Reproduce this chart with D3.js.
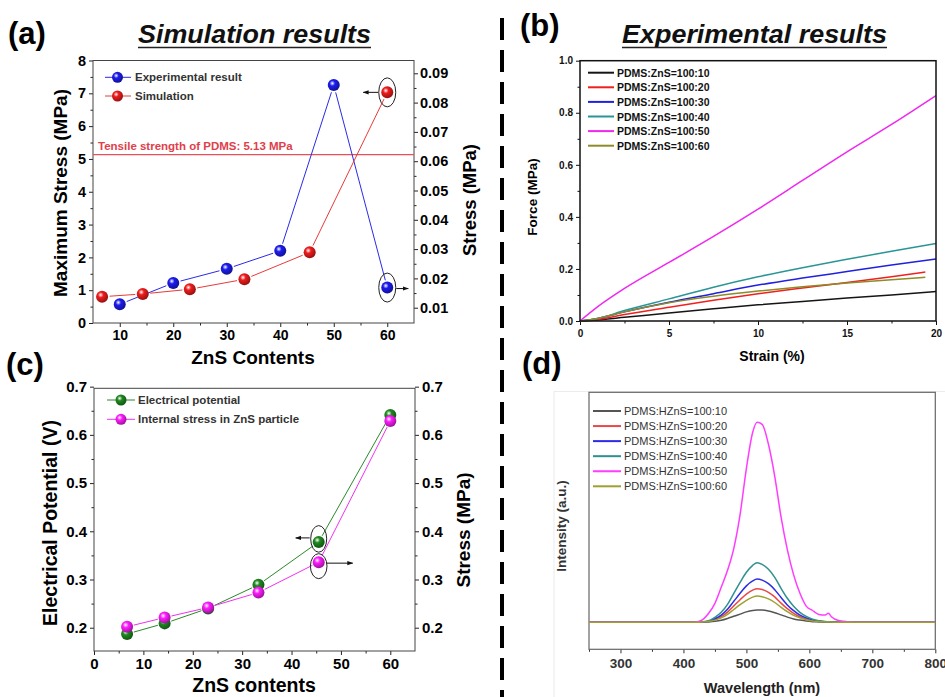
<!DOCTYPE html>
<html>
<head>
<meta charset="utf-8">
<script src="https://cdn.jsdelivr.net/npm/d3@7"></script>
<style>
body { margin: 0; background: #fff; }
svg { font-family: Arial, "Liberation Sans", sans-serif; }
</style>
</head>
<body>
<svg id="fig" width="945" height="697"></svg>
<script>
// ---- (a) simulation vs experiment ----
var expX = [10, 20, 30, 40, 50, 60];
var expStress = [0.57, 1.22, 1.65, 2.2, 7.25, 1.08];          // left axis, MPa
var simX = [6.7, 14.3, 23.1, 33.3, 45.5, 60];
var simStress = [0.01375, 0.0147, 0.0163, 0.0197, 0.0289, 0.0835]; // right axis, MPa
var pdmsStrength = 5.13;
var ticksA = [0, 1, 2, 3, 4, 5, 6, 7, 8];
var ticksA2 = [0.01, 0.02, 0.03, 0.04, 0.05, 0.06, 0.07, 0.08, 0.09];
var ticksAx = [10, 20, 30, 40, 50, 60];

// ---- (b) stress-strain curves ----
var strainFull = [0, 1, 2.5, 5, 7.5, 10, 12.5, 15, 17.5, 20];
var strainShort = [0, 1, 2.5, 5, 7.5, 10, 12.5, 15, 17.5, 19.4];
var force10 = [0, 0.004, 0.014, 0.031, 0.047, 0.062, 0.075, 0.088, 0.1, 0.113];
var force20 = [0, 0.006, 0.025, 0.053, 0.08, 0.105, 0.127, 0.148, 0.17, 0.188];
var force30 = [0, 0.01, 0.035, 0.072, 0.105, 0.138, 0.165, 0.19, 0.215, 0.238];
var force40 = [0, 0.01, 0.04, 0.085, 0.13, 0.17, 0.205, 0.237, 0.268, 0.298];
var force50 = [0, 0.055, 0.125, 0.225, 0.325, 0.43, 0.54, 0.65, 0.755, 0.866];
var force60 = [0, 0.01, 0.035, 0.07, 0.095, 0.115, 0.132, 0.146, 0.158, 0.168];
var legendB = ["PDMS:ZnS=100:10", "PDMS:ZnS=100:20", "PDMS:ZnS=100:30",
               "PDMS:ZnS=100:40", "PDMS:ZnS=100:50", "PDMS:ZnS=100:60"];
var ticksBx = [0, 5, 10, 15, 20];
var ticksBy = [0, 0.2, 0.4, 0.6, 0.8, 1.0];

// ---- (c) potential and internal stress ----
var zincX = [6.7, 14.3, 23.1, 33.3, 45.5, 60];
var potential = [0.187, 0.209, 0.24, 0.289, 0.378, 0.641];
var internalStress = [0.202, 0.221, 0.242, 0.273, 0.336, 0.629];
var ticksC = [0.2, 0.3, 0.4, 0.5, 0.6, 0.7];
var ticksCx = [0, 10, 20, 30, 40, 50, 60];

// ---- (d) emission spectra ----
var wl = [250, 400, 420, 430, 440, 450, 460, 470, 480, 490, 500, 510, 517, 525, 535, 545,
          555, 565, 575, 585, 595, 605, 615, 625, 630, 635, 645, 660, 680, 700, 800];
var int10 = [0, 0, 0, 0, 0.002, 0.005, 0.01, 0.019, 0.03, 0.041, 0.052, 0.059, 0.061, 0.061, 0.057, 0.048,
             0.037, 0.026, 0.017, 0.011, 0.006, 0.003, 0.002, 0.001, 0.001, 0, 0, 0, 0, 0, 0];
var int20 = [0, 0, 0, 0.001, 0.005, 0.014, 0.028, 0.051, 0.082, 0.113, 0.141, 0.161, 0.168, 0.164, 0.15, 0.127,
             0.096, 0.068, 0.045, 0.028, 0.017, 0.009, 0.005, 0.002, 0.002, 0.001, 0, 0, 0, 0, 0];
var int30 = [0, 0, 0, 0.001, 0.006, 0.018, 0.036, 0.065, 0.105, 0.145, 0.182, 0.207, 0.216, 0.211, 0.193, 0.163,
             0.124, 0.087, 0.058, 0.036, 0.022, 0.012, 0.006, 0.003, 0.002, 0.001, 0, 0, 0, 0, 0];
var int40 = [0, 0, 0, 0.002, 0.008, 0.025, 0.05, 0.09, 0.145, 0.2, 0.25, 0.285, 0.298, 0.29, 0.265, 0.225,
             0.17, 0.12, 0.08, 0.05, 0.03, 0.016, 0.008, 0.004, 0.003, 0.002, 0.001, 0, 0, 0, 0];
var int50 = [0, 0, 0.002, 0.012, 0.045, 0.095, 0.175, 0.26, 0.37, 0.54, 0.77, 0.95, 1.0, 0.99, 0.89, 0.73,
             0.527, 0.363, 0.237, 0.145, 0.081, 0.059, 0.039, 0.036, 0.045, 0.028, 0.01, 0.003, 0, 0, 0];
var int60 = [0, 0, 0, 0.001, 0.004, 0.011, 0.022, 0.04, 0.064, 0.088, 0.11, 0.126, 0.131, 0.128, 0.117, 0.099,
             0.075, 0.053, 0.035, 0.022, 0.013, 0.007, 0.004, 0.002, 0.001, 0.001, 0, 0, 0, 0, 0];
var legendD = ["PDMS:HZnS=100:10", "PDMS:HZnS=100:20", "PDMS:HZnS=100:30",
               "PDMS:HZnS=100:40", "PDMS:HZnS=100:50", "PDMS:HZnS=100:60"];
var ticksDx = [300, 400, 500, 600, 700, 800];

var svg = d3.select("#fig");
var defs = svg.append("defs");

// shaded ball markers like Origin
function sphereGrad(id, c) {
  var g = defs.append("radialGradient").attr("id", id)
    .attr("cx", "38%").attr("cy", "35%").attr("r", "65%");
  g.append("stop").attr("offset", "0%").attr("stop-color", "#fff");
  g.append("stop").attr("offset", "35%").attr("stop-color", c);
  g.append("stop").attr("offset", "100%").attr("stop-color", d3.color(c).darker(1.3));
}
sphereGrad("gBlue", "#1c1cf0");
sphereGrad("gRed", "#f01c1c");
sphereGrad("gGreen", "#1f8a1f");
sphereGrad("gPink", "#ff1cff");

defs.append("marker").attr("id", "arr")
  .attr("viewBox", "0 0 10 10").attr("refX", 9).attr("refY", 5)
  .attr("markerWidth", 6).attr("markerHeight", 6).attr("orient", "auto")
  .append("path").attr("d", "M0,1.5 L10,5 L0,8.5 Z").attr("fill", "#111");

function styleAxis(g, size, color) {
  g.attr("font-family", "Arial, 'Liberation Sans', sans-serif")
    .attr("font-size", size).attr("font-weight", "bold");
  g.select(".domain").remove();
  g.selectAll(".tick line").attr("stroke", color || "#222");
  g.selectAll(".tick text").attr("fill", color || "#000");
}

function minorAxis(axisFn, scale, vals, size, tx, ty, color) {
  var g = svg.append("g").attr("transform", "translate(" + tx + "," + ty + ")")
    .call(axisFn(scale).tickValues(vals).tickSize(size).tickFormat(""));
  g.select(".domain").remove();
  g.selectAll(".tick line").attr("stroke", color || "#222");
}

// line segments that stop short of the markers
function gapLine(xs, ys, sx, sy, color, gap) {
  for (var i = 0; i < xs.length - 1; i++) {
    var x0 = sx(xs[i]), y0 = sy(ys[i]), x1 = sx(xs[i + 1]), y1 = sy(ys[i + 1]);
    var dx = x1 - x0, dy = y1 - y0, d = Math.hypot(dx, dy);
    if (d <= 2 * gap) continue;
    var ux = dx / d, uy = dy / d;
    svg.append("line")
      .attr("x1", x0 + ux * gap).attr("y1", y0 + uy * gap)
      .attr("x2", x1 - ux * gap).attr("y2", y1 - uy * gap)
      .attr("stroke", color).attr("stroke-width", 1);
  }
}

function balls(xs, ys, sx, sy, grad, r) {
  svg.append("g").selectAll("circle").data(xs).enter().append("circle")
    .attr("cx", function(d) { return sx(d); })
    .attr("cy", function(d, i) { return sy(ys[i]); })
    .attr("r", r).attr("fill", "url(#" + grad + ")");
}

function vText(x, y, txt, size, color) {
  svg.append("text").attr("transform", "translate(" + x + "," + y + ") rotate(-90)")
    .attr("text-anchor", "middle").attr("font-size", size).attr("font-weight", "bold")
    .attr("fill", color || "#000").text(txt);
}

function hText(x, y, txt, size, anchor, color, weight) {
  return svg.append("text").attr("x", x).attr("y", y)
    .attr("text-anchor", anchor || "middle").attr("font-size", size)
    .attr("font-weight", weight || "bold").attr("fill", color || "#000").text(txt);
}

// italic title with underline, stretched to the width seen in the figure
function underlinedTitle(x0, x1, y, txt) {
  svg.append("text").attr("x", x0).attr("y", y)
    .attr("font-size", 25).attr("font-weight", "bold").attr("font-style", "italic")
    .attr("textLength", x1 - x0).attr("lengthAdjust", "spacingAndGlyphs")
    .attr("fill", "#111").text(txt);
  svg.append("line").attr("x1", x0).attr("x2", x1)
    .attr("y1", y + 4.5).attr("y2", y + 4.5).attr("stroke", "#222").attr("stroke-width", 1.6);
}

// ================= (a) =================
var xA = d3.scaleLinear().domain([5, 65]).range([93, 414]);
var yA = d3.scaleLinear().domain([0, 8]).range([323, 60.5]);
var yA2 = d3.scaleLinear().domain([0.00478, 0.09437]).range([323, 60.5]);

var gAx = svg.append("g").attr("transform", "translate(0,323)")
  .call(d3.axisBottom(xA).tickValues(ticksAx).tickSize(4).tickPadding(3));
styleAxis(gAx, 14);
minorAxis(d3.axisBottom, xA, [15, 25, 35, 45, 55], 2.5, 0, 323);
var gAy = svg.append("g").attr("transform", "translate(93,0)")
  .call(d3.axisLeft(yA).tickValues(ticksA).tickSize(4).tickPadding(3).tickFormat(d3.format("d")));
styleAxis(gAy, 14.5);
minorAxis(d3.axisLeft, yA, d3.range(0.5, 8, 1), 2.5, 93, 0);
var gAy2 = svg.append("g").attr("transform", "translate(414,0)")
  .call(d3.axisRight(yA2).tickValues(ticksA2).tickSize(4).tickPadding(2).tickFormat(d3.format(".2f")));
styleAxis(gAy2, 14.5);
minorAxis(d3.axisRight, yA2, d3.range(0.015, 0.094, 0.01), 2.5, 414, 0);
svg.append("rect").attr("x", 93).attr("y", 60.5).attr("width", 321).attr("height", 262.5)
  .attr("fill", "none").attr("stroke", "#444").attr("stroke-width", 1);

svg.append("line").attr("x1", 93).attr("x2", 414)
  .attr("y1", yA(pdmsStrength)).attr("y2", yA(pdmsStrength))
  .attr("stroke", "#e8505a").attr("stroke-width", 1.2);
hText(98, yA(pdmsStrength) - 5, "Tensile strength of PDMS: 5.13 MPa", 11.5, "start", "#e0404a");

gapLine(expX, expStress, xA, yA, "#2a2ae8", 7.5);
gapLine(simX, simStress, xA, yA2, "#e83a3a", 7.5);
balls(expX, expStress, xA, yA, "gBlue", 6);
balls(simX, simStress, xA, yA2, "gRed", 6);

// callouts
var rp = [xA(60), yA2(simStress[5])], bp = [xA(60), yA(expStress[5])];
svg.append("ellipse").attr("cx", rp[0]).attr("cy", rp[1]).attr("rx", 8.5).attr("ry", 14.5)
  .attr("fill", "none").attr("stroke", "#222").attr("stroke-width", 1);
svg.append("line").attr("x1", rp[0] - 9).attr("x2", rp[0] - 24).attr("y1", rp[1]).attr("y2", rp[1])
  .attr("stroke", "#111").attr("marker-end", "url(#arr)");
svg.append("ellipse").attr("cx", bp[0]).attr("cy", bp[1]).attr("rx", 8.5).attr("ry", 14.5)
  .attr("fill", "none").attr("stroke", "#222").attr("stroke-width", 1);
svg.append("line").attr("x1", bp[0] + 9).attr("x2", bp[0] + 21).attr("y1", bp[1] + 1).attr("y2", bp[1] + 1)
  .attr("stroke", "#111").attr("marker-end", "url(#arr)");

// legend (a)
[["Experimental result", "#2a2ae8", "gBlue", 77.3], ["Simulation", "#e83a3a", "gRed", 96]].forEach(function(l) {
  svg.append("line").attr("x1", 105).attr("x2", 131).attr("y1", l[3]).attr("y2", l[3]).attr("stroke", l[1]);
  svg.append("circle").attr("cx", 117.5).attr("cy", l[3]).attr("r", 5.5).attr("fill", "url(#" + l[2] + ")");
  hText(135, l[3] + 4, l[0], 11.5, "start", "#333");
});

vText(67, 193, "Maximum Stress (MPa)", 19);
vText(476, 200, "Stress (MPa)", 18.5);
hText(253, 364, "ZnS Contents", 19);

// ================= (b) =================
var xB = d3.scaleLinear().domain([0, 20]).range([580, 936]);
var yB = d3.scaleLinear().domain([0, 1]).range([321, 60.7]);
var gBx = svg.append("g").attr("transform", "translate(0,321)")
  .call(d3.axisBottom(xB).tickValues(ticksBx).tickSize(4).tickPadding(5));
styleAxis(gBx, 10, "#111");
minorAxis(d3.axisBottom, xB, [2.5, 7.5, 12.5, 17.5], 2.5, 0, 321, "#111");
var gBy = svg.append("g").attr("transform", "translate(580,0)")
  .call(d3.axisLeft(yB).tickValues(ticksBy).tickSize(4).tickPadding(3).tickFormat(d3.format(".1f")));
styleAxis(gBy, 10, "#111");
minorAxis(d3.axisLeft, yB, [0.1, 0.3, 0.5, 0.7, 0.9], 2.5, 580, 0, "#111");

var seriesB = [
  [strainFull, force10, "#151515"], [strainShort, force20, "#f02020"], [strainFull, force30, "#2020e0"],
  [strainFull, force40, "#2a9595"], [strainFull, force50, "#f028f0"], [strainShort, force60, "#8c8c28"]];
var lineB = d3.line().curve(d3.curveMonotoneX);
seriesB.forEach(function(s) {
  svg.append("path")
    .attr("d", lineB(s[0].map(function(x, i) { return [xB(x), yB(s[1][i])]; })))
    .attr("fill", "none").attr("stroke", s[2]).attr("stroke-width", 1.5);
});
svg.append("rect").attr("x", 580).attr("y", 60.7).attr("width", 356).attr("height", 260.3)
  .attr("fill", "none").attr("stroke", "#111").attr("stroke-width", 1.5);

legendB.forEach(function(t, i) {
  var y = 72.7 + i * 14.6;
  svg.append("line").attr("x1", 588).attr("x2", 614).attr("y1", y).attr("y2", y)
    .attr("stroke", seriesB[i][2]).attr("stroke-width", 2);
  hText(617, y + 4, t, 10.5, "start", "#111");
});
vText(537, 197, "Force (MPa)", 13.5);
hText(772, 361, "Strain (%)", 14);

// ================= (c) =================
var xC = d3.scaleLinear().domain([0, 65]).range([94, 415]);
var yC = d3.scaleLinear().domain([0.1517, 0.6966]).range([651, 388.3]);
var gCx = svg.append("g").attr("transform", "translate(0,651)")
  .call(d3.axisBottom(xC).tickValues(ticksCx).tickSize(4).tickPadding(3));
styleAxis(gCx, 15);
minorAxis(d3.axisBottom, xC, [5, 15, 25, 35, 45, 55], 2.5, 0, 651);
var gCy = svg.append("g").attr("transform", "translate(94,0)")
  .call(d3.axisLeft(yC).tickValues(ticksC).tickSize(4).tickPadding(3).tickFormat(d3.format(".1f")));
styleAxis(gCy, 15);
minorAxis(d3.axisLeft, yC, [0.25, 0.35, 0.45, 0.55, 0.65], 2.5, 94, 0);
var gCy2 = svg.append("g").attr("transform", "translate(415,0)")
  .call(d3.axisRight(yC).tickValues(ticksC).tickSize(4).tickPadding(3).tickFormat(d3.format(".1f")));
styleAxis(gCy2, 15);
minorAxis(d3.axisRight, yC, [0.25, 0.35, 0.45, 0.55, 0.65], 2.5, 415, 0);
svg.append("rect").attr("x", 94).attr("y", 388.3).attr("width", 321).attr("height", 262.7)
  .attr("fill", "none").attr("stroke", "#444").attr("stroke-width", 1);

gapLine(zincX, potential, xC, yC, "#2a8a2a", 7);
gapLine(zincX, internalStress, xC, yC, "#f030f0", 7);
balls(zincX, potential, xC, yC, "gGreen", 6);
balls(zincX, internalStress, xC, yC, "gPink", 6);

var gp = [xC(45.5), yC(potential[4])], mp = [xC(45.5), yC(internalStress[4])];
svg.append("ellipse").attr("cx", gp[0]).attr("cy", gp[1] - 3).attr("rx", 8).attr("ry", 13.3)
  .attr("fill", "none").attr("stroke", "#222");
svg.append("line").attr("x1", gp[0] - 9).attr("x2", gp[0] - 23).attr("y1", gp[1] - 4).attr("y2", gp[1] - 4)
  .attr("stroke", "#111").attr("marker-end", "url(#arr)");
svg.append("ellipse").attr("cx", mp[0]).attr("cy", mp[1] + 4).attr("rx", 8.3).attr("ry", 12.5)
  .attr("fill", "none").attr("stroke", "#222");
svg.append("line").attr("x1", mp[0] + 8).attr("x2", mp[0] + 34).attr("y1", mp[1] + 1).attr("y2", mp[1] + 1)
  .attr("stroke", "#111").attr("marker-end", "url(#arr)");

[["Electrical potential", "#2a8a2a", "gGreen", 400], ["Internal stress in ZnS particle", "#f030f0", "gPink", 419.3]].forEach(function(l) {
  svg.append("line").attr("x1", 107).attr("x2", 135).attr("y1", l[3]).attr("y2", l[3]).attr("stroke", l[1]);
  svg.append("circle").attr("cx", 121).attr("cy", l[3]).attr("r", 5.5).attr("fill", "url(#" + l[2] + ")");
  hText(138, l[3] + 4, l[0], 11.5, "start", "#333");
});

vText(57, 523, "Electrical Potential (V)", 19.5);
vText(470, 530, "Stress (MPa)", 19);
hText(254, 692, "ZnS contents", 19.5);

// ================= (d) =================
var xD = d3.scaleLinear().domain([250, 800]).range([589, 935.3]);
var yD = d3.scaleLinear().domain([-0.135, 1.15]).range([649.3, 392.3]);
svg.append("rect").attr("x", 554).attr("y", 391.5).attr("width", 400).attr("height", 320)
  .attr("fill", "none").attr("stroke", "#ececec");
var gDx = svg.append("g").attr("transform", "translate(0,649.3)")
  .call(d3.axisBottom(xD).tickValues(ticksDx).tickSize(4).tickPadding(5));
styleAxis(gDx, 13.5, "#333");
minorAxis(d3.axisBottom, xD, [250, 350, 450, 550, 650, 750], 2.5, 0, 649.3, "#333");
svg.append("rect").attr("x", 589).attr("y", 392.3).attr("width", 346.3).attr("height", 257)
  .attr("fill", "none").attr("stroke", "#666").attr("stroke-width", 1.2);

var seriesD = [[int10, "#555555"], [int20, "#e84848"], [int30, "#2c2ce6"],
               [int40, "#2e9090"], [int50, "#ff3cff"], [int60, "#a0a030"]];
var lineD = d3.line().curve(d3.curveMonotoneX);
seriesD.forEach(function(s) {
  svg.append("path")
    .attr("d", lineD(wl.map(function(w, i) { return [xD(w), yD(s[0][i])]; })))
    .attr("fill", "none").attr("stroke", s[1]).attr("stroke-width", 1.5);
});
legendD.forEach(function(t, i) {
  var y = 411 + i * 15.06;
  svg.append("line").attr("x1", 593).attr("x2", 621).attr("y1", y).attr("y2", y)
    .attr("stroke", seriesD[i][1]).attr("stroke-width", 2);
  hText(624, y + 4, t, 11, "start", "#333", "normal");
});
vText(566, 526, "Intensity (a.u.)", 13.5, "#333");
hText(762, 693, "Wavelength (nm)", 14.5, "middle", "#222");

// ================= titles and divider =================
hText(8, 44, "(a)", 31, "start");
hText(520, 36, "(b)", 31, "start");
hText(6, 375, "(c)", 31, "start");
hText(522, 374, "(d)", 31, "start");
underlinedTitle(138, 371, 43, "Simulation results");
underlinedTitle(622, 887, 43, "Experimental results");

svg.append("line").attr("x1", 502).attr("x2", 502).attr("y1", 18).attr("y2", 697)
  .attr("stroke", "#000").attr("stroke-width", 4).attr("stroke-dasharray", "22,10");
</script>
</body>
</html>
